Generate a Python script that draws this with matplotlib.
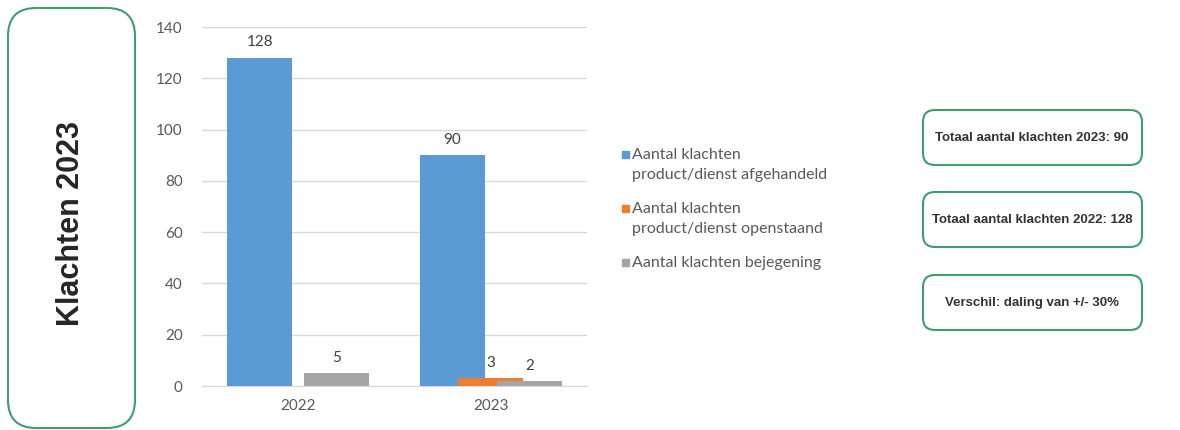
import matplotlib
matplotlib.use("Agg")
import matplotlib.pyplot as plt
from matplotlib.patches import FancyBboxPatch, Rectangle
import numpy as np

# data
years = ["2022", "2023"]
series_names = ["Aantal klachten\nproduct/dienst afgehandeld",
                "Aantal klachten\nproduct/dienst openstaand",
                "Aantal klachten bejegening"]
afgehandeld = [128, 90]
openstaand = [0, 3]
bejegening = [5, 2]
summary_lines = ["Totaal aantal klachten 2023: 90",
                 "Totaal aantal klachten 2022: 128",
                 "Verschil: daling van +/- 30%"]
side_title = "Klachten 2023"

colors = ["#5B9BD5", "#ED7D31", "#A5A5A5"]
green = "#3E9E6E"
txt_grey = "#595959"

plt.rcParams['font.family'] = ['Lato', 'DejaVu Sans']

fig = plt.figure(figsize=(11.8, 4.3), dpi=100)
W, H = 1180, 430

ax = fig.add_axes([202 / W, 1 - 386 / H, (587 - 202) / W, (386 - 27) / H])
x = np.arange(len(years))
width = 0.34
step = 0.2
for i, vals in enumerate([afgehandeld, openstaand, bejegening]):
    bars = ax.bar(x + (i - 1) * step, vals, width, color=colors[i], zorder=3)
    for b, v in zip(bars, vals):
        if v == 0:
            continue
        ax.annotate(str(v), (b.get_x() + b.get_width() / 2, v),
                    xytext=(0, 6), textcoords="offset points",
                    ha="center", va="bottom", fontsize=11, color="#404040")

ax.set_xlim(-0.5, 1.5)
ax.set_ylim(0, 140)
ax.set_yticks(range(0, 141, 20))
ax.set_xticks(x)
ax.set_xticklabels(years)
ax.yaxis.grid(True, color="#D9D9D9", linewidth=1, zorder=0)
for s in ["top", "right", "left"]:
    ax.spines[s].set_visible(False)
ax.spines["bottom"].set_color("#D9D9D9")
ax.tick_params(length=0, labelsize=11, colors=txt_grey)
ax.tick_params(axis="y", pad=14)
ax.tick_params(axis="x", pad=9)

# overlay in pixel coords for boxes and legend
ov = fig.add_axes([0, 0, 1, 1], zorder=5)
ov.set_xlim(0, W)
ov.set_ylim(H, 0)
ov.axis("off")
ov.patch.set_alpha(0)

ov.add_patch(FancyBboxPatch((8 + 28, 8 + 28), 127 - 56, 420 - 56,
                            boxstyle="round,pad=28", fc="white", ec=green, lw=1.5))
ov.text(71, 224, side_title, rotation=90, ha="center", va="center",
        fontsize=22, fontweight="bold", color="#262626", family="Liberation Sans")

# legend drawn by hand so the square sits on the first line
ly = 155
for name, c in zip(series_names, colors):
    lines = name.split("\n")
    ov.add_patch(Rectangle((622, ly - 4), 7, 7, color=c))
    for k, line in enumerate(lines):
        ov.text(632, ly + k * 20, line, ha="left", va="center",
                fontsize=11.5, color=txt_grey)
    ly += len(lines) * 20 + 14

box_top = [110, 192, 275]
for t, yt in zip(summary_lines, box_top):
    r = 12
    ov.add_patch(FancyBboxPatch((923 + r, yt + r), 219 - 2 * r, 55 - 2 * r,
                                boxstyle="round,pad=%d" % r, fc="white", ec=green, lw=1.5))
    ov.text(1032, yt + 28, t, ha="center", va="center", fontsize=9.5,
            fontweight="bold", color="#333333", family="Liberation Sans")

fig.savefig("out.png", dpi=100)
